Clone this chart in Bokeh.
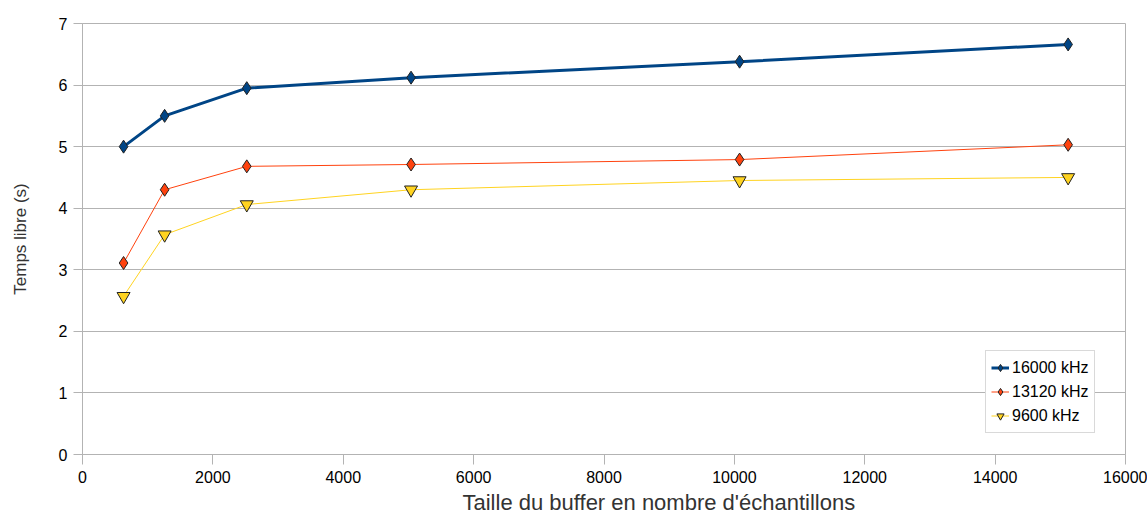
from bokeh.plotting import figure
from bokeh.models import Legend, LegendItem, Title, FixedTicker, Range1d
from bokeh.embed import file_html
from bokeh.resources import INLINE

buffer_sizes = [630, 1260, 2520, 5040, 10080, 15120]
s16000 = [5.00, 5.50, 5.95, 6.12, 6.38, 6.66]
s13120 = [3.11, 4.30, 4.68, 4.71, 4.79, 5.03]
s9600 = [2.57, 3.57, 4.06, 4.30, 4.45, 4.50]
labels = ["16000 kHz", "13120 kHz", "9600 kHz"]
x_ticks = [0, 2000, 4000, 6000, 8000, 10000, 12000, 14000, 16000]
y_ticks = [0, 1, 2, 3, 4, 5, 6, 7]
x_title = "Taille du buffer en nombre d'échantillons"
y_title = "Temps libre (s)"

FONT = "Liberation Sans"
GRID = "#b3b3b3"

p = figure(width=1147, height=519, output_backend="svg", toolbar_location=None,
           x_range=Range1d(0, 16000), y_range=Range1d(0, 7),
           min_border_left=82, min_border_right=22, min_border_top=23, min_border_bottom=65)
p.background_fill_color = "white"
p.border_fill_color = "white"
p.outline_line_color = GRID
p.outline_line_width = 1

p.xaxis.ticker = FixedTicker(ticks=x_ticks)
p.yaxis.ticker = FixedTicker(ticks=y_ticks)
for ax in (p.xaxis[0], p.yaxis[0]):
    ax.axis_line_color = GRID
    ax.major_tick_line_color = GRID
    ax.minor_tick_line_color = None
    ax.major_tick_in = 0
    ax.major_label_text_font = FONT
    ax.major_label_text_font_size = "16px"
    ax.major_label_text_color = "#000000"
p.xaxis.major_tick_out = 10
p.yaxis.major_tick_out = 9
p.xaxis.major_label_standoff = 6
p.yaxis.major_label_standoff = 6
p.xgrid.grid_line_color = None
p.ygrid.grid_line_color = GRID
p.ygrid.grid_line_width = 1

p.yaxis.axis_label = y_title
p.yaxis.axis_label_text_font = FONT
p.yaxis.axis_label_text_font_size = "17px"
p.yaxis.axis_label_text_font_style = "normal"
p.yaxis.axis_label_text_color = "#333333"
p.yaxis.axis_label_standoff = 26

p.add_layout(Title(text=x_title, align="left", offset=380,
                   text_font=FONT, text_font_size="22px", text_font_style="normal",
                   text_color="#333333", standoff=4), "below")

colors = ["#004586", "#ff420e", "#ffd320"]
widths = [3, 1, 1]
markers = ["diamond", "diamond", "inverted_triangle"]
sizes = [13, 13, 13]
series = [s16000, s13120, s9600]

items = []
for lab, ys, c, w, m, sz in zip(labels, series, colors, widths, markers, sizes):
    ln = p.line(buffer_sizes, ys, line_color=c, line_width=w)
    sc = p.scatter(buffer_sizes, ys, marker=m, size=sz, fill_color=c,
                   line_color="#222222", line_width=1)
    items.append(LegendItem(label=lab, renderers=[ln, sc]))

legend = Legend(items=items, location=(903, 21), orientation="vertical",
                label_text_font=FONT, label_text_font_size="16px",
                label_text_color="#000000",
                glyph_width=18, glyph_height=23, spacing=1, padding=5,
                label_standoff=3, border_line_color=GRID, border_line_width=1,
                background_fill_color="white", background_fill_alpha=1,
                margin=0)
p.add_layout(legend, "center")

open("out.html", "w").write(file_html(p, INLINE))
